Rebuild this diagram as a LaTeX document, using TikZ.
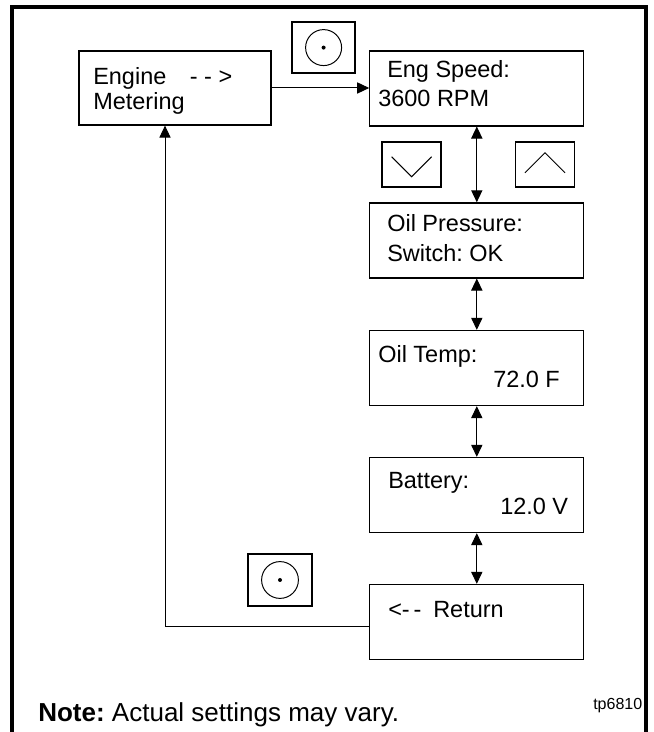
\documentclass[tikz,border=0pt]{standalone}
\usepackage{fontspec}
\setmainfont{Liberation Sans}
\usetikzlibrary{arrows.meta}
\frenchspacing

\tikzset{
  screen/.style={draw, line width=0.9pt, minimum width=5.35cm, minimum height=1.875cm, inner sep=0pt},
  keybox/.style={draw, line width=0.9pt, minimum width=1.475cm, minimum height=1.125cm, inner sep=0pt},
  txt/.style={anchor=base west, inner sep=0pt, font=\fontsize{16.7}{20}\selectfont},
}

\begin{document}
\begin{tikzpicture}[>={Triangle[length=3mm,width=2.8mm]}]
  \useasboundingbox (0,0) rectangle (16.35,18.3);

  % outer frame, open at the bottom
  \draw[line width=2.2pt] (0.3,-0.5) -- (0.3,18.125) -- (16.15,18.125) -- (16.15,-0.5);

  % menu screens
  \node[screen, minimum width=4.8cm, minimum height=1.85cm] (eng) at (4.375,16.1) {};
  \node[screen] (speed) at (11.92,16.09) {};
  \node[screen] (oilp) at (11.92,12.29) {};
  \node[screen] (oilt) at (11.92,9.1) {};
  \node[screen] (batt) at (11.92,5.925) {};
  \node[screen] (ret) at (11.92,2.75) {};

  % screen texts
  \node[txt] (engA) at (2.325,16.175) {Engine\quad- - >};
  \node[txt] (engB) at (2.325,15.55) {Metering};
  \node[txt] (speedA) at (9.675,16.35) {Eng Speed:};
  \node[txt] (speedB) at (9.45,15.625) {3600 RPM};
  \node[txt] (oilpA) at (9.675,12.5) {Oil Pressure:};
  \node[txt] (oilpB) at (9.675,11.75) {Switch: OK};
  \node[txt] (oiltA) at (9.45,9.225) {Oil Temp:};
  \node[txt] (oiltB) at (12.325,8.6) {72.0 F};
  \node[txt] (battA) at (9.7,6.075) {Battery:};
  \node[txt] (battB) at (12.5,5.425) {12.0 V};
  \node[txt] (retA) at (9.7,2.85) {<-\,-\enspace Return};

  % select buttons
  \node[keybox, minimum width=1.575cm, minimum height=1.275cm] (selTop) at (8.09,17.11) {};
  \draw[line width=0.7pt] (selTop.center) circle (0.45);
  \fill (selTop.center) circle (0.05);
  \node[keybox, minimum width=1.6cm, minimum height=1.3cm] (selBot) at (7.0,3.8) {};
  \draw[line width=0.7pt] (selBot.center) circle (0.46);
  \fill (selBot.center) circle (0.05);

  % down and up buttons
  \node[keybox] (down) at (10.29,14.19) {};
  \draw[line width=0.7pt] ([shift={(-0.5,0.19)}]down.center) -- ([shift={(0,-0.31)}]down.center) -- ([shift={(0.5,0.19)}]down.center);
  \node[keybox] (up) at (13.625,14.19) {};
  \draw[line width=0.7pt] ([shift={(-0.5,-0.21)}]up.center) -- ([shift={(0,0.29)}]up.center) -- ([shift={(0.5,-0.21)}]up.center);

  % connectors
  \draw[->, line width=0.7pt] (eng.east) -- (eng.east -| speed.west);
  \draw[<->, line width=0.7pt] (speed.south) -- (oilp.north);
  \draw[<->, line width=0.7pt] (oilp.south) -- (oilt.north);
  \draw[<->, line width=0.7pt] (oilt.south) -- (batt.north);
  \draw[<->, line width=0.7pt] (batt.south) -- (ret.north);
  \draw[->, line width=0.7pt] ([yshift=-0.12cm]ret.west) -| ([xshift=-0.25cm]eng.south);

  % footer
  \node[anchor=base west, inner sep=0pt, font=\fontsize{18.5}{22}\selectfont] (note) at (0.95,0.25) {\textbf{Note:} Actual settings may vary.};
  \node[anchor=base west, inner sep=0pt, font=\fontsize{11.4}{13}\selectfont] (figno) at (14.825,0.55) {tp6810};
\end{tikzpicture}
\end{document}
